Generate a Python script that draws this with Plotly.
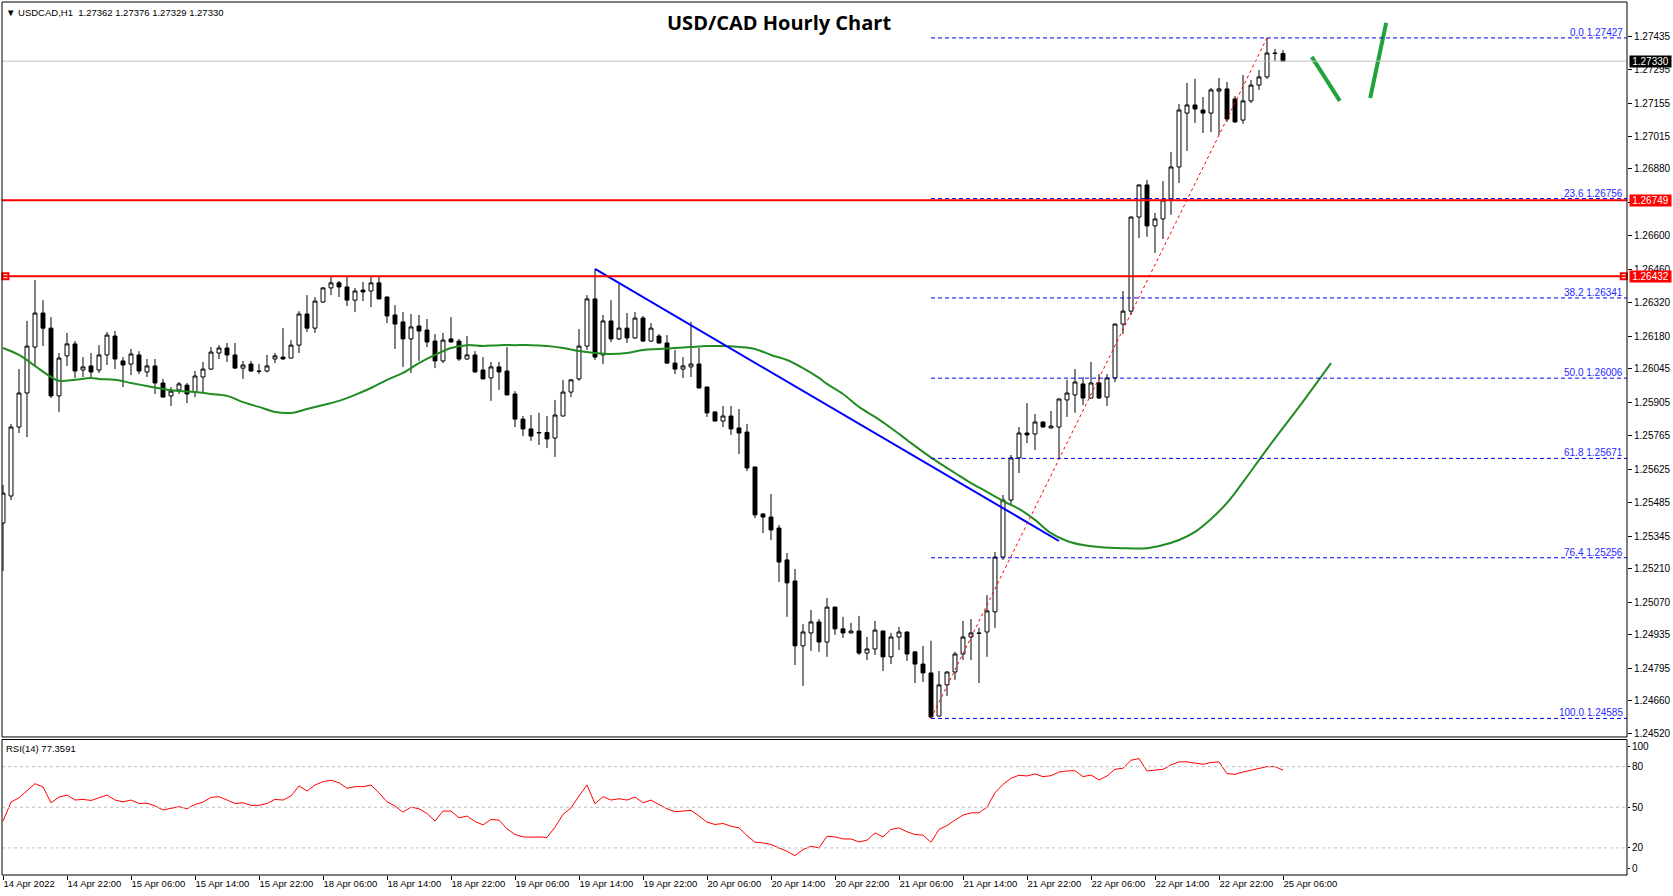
import plotly.graph_objects as go

# ---------------- DATA ----------------
bar_index = list(range(161))
open_ = [1.25401,1.25514,1.25802,1.25944,1.26136,1.26278,1.26215,1.25932,1.26099,1.26149,
 1.26040,1.26057,1.26040,1.26103,1.26182,1.26078,1.26065,1.26103,1.26032,1.26057,
 1.25986,1.25932,1.25957,1.25977,1.25948,1.26011,1.26044,1.26111,1.26132,1.26103,
 1.26048,1.26065,1.26036,1.26036,1.26086,1.26094,1.26090,1.26144,1.26274,1.26215,
 1.26324,1.26383,1.26404,1.26387,1.26332,1.26374,1.26370,1.26404,1.26345,1.26270,
 1.26241,1.26170,1.26224,1.26207,1.26161,1.26078,1.26170,1.26161,1.26086,1.26103,
 1.26040,1.26007,1.26053,1.26036,1.25940,1.25835,1.25794,1.25777,1.25779,1.25756,
 1.25848,1.25948,1.26003,1.26140,1.26337,1.26103,1.26245,1.26170,1.26215,1.26174,
 1.26257,1.26161,1.26182,1.26153,1.26069,1.26044,1.26053,1.26065,1.25969,1.25865,
 1.25827,1.25848,1.25798,1.25781,1.25635,1.25439,1.25426,1.25380,1.25247,1.25159,
 1.24888,1.24942,1.24988,1.24904,1.25050,1.24959,1.24942,1.24950,1.24858,1.24875,
 1.24950,1.24842,1.24925,1.24946,1.24863,1.24812,1.24775,1.24595,1.24725,1.24779,
 1.24854,1.24925,1.24942,1.24946,1.25030,1.25259,1.25497,1.25673,1.25777,1.25773,
 1.25823,1.25798,1.25802,1.25915,1.25936,1.25982,1.25923,1.25986,1.25927,1.26007,
 1.26232,1.26286,1.26679,1.26813,1.26642,1.26671,1.26750,1.26888,1.27113,1.27147,
 1.27126,1.27113,1.27205,1.27214,1.27172,1.27084,1.27164,1.27230,1.27264,1.27364,
 1.27362]
high = [1.25560,1.25815,1.26044,1.26245,1.26416,1.26332,1.26261,1.26111,1.26195,1.26161,
 1.26094,1.26111,1.26144,1.26199,1.26203,1.26094,1.26128,1.26119,1.26086,1.26086,
 1.26003,1.25969,1.25990,1.25986,1.26036,1.26074,1.26136,1.26144,1.26153,1.26153,
 1.26078,1.26078,1.26065,1.26103,1.26111,1.26215,1.26165,1.26286,1.26353,1.26345,
 1.26385,1.26429,1.26412,1.26429,1.26383,1.26408,1.26429,1.26429,1.26347,1.26311,
 1.26282,1.26274,1.26270,1.26253,1.26190,1.26195,1.26261,1.26170,1.26182,1.26119,
 1.26094,1.26074,1.26074,1.26136,1.25952,1.25848,1.25852,1.25861,1.25848,1.25915,
 1.25999,1.26001,1.26211,1.26353,1.26462,1.26270,1.26332,1.26399,1.26278,1.26282,
 1.26266,1.26236,1.26190,1.26186,1.26124,1.26094,1.26241,1.26132,1.25971,1.25867,
 1.25890,1.25890,1.25877,1.25815,1.25637,1.25441,1.25522,1.25393,1.25276,1.25209,
 1.24979,1.25038,1.25000,1.25088,1.25052,1.25009,1.24984,1.25013,1.24925,1.24992,
 1.24952,1.24942,1.24967,1.24948,1.24865,1.24888,1.24909,1.24783,1.24781,1.24863,
 1.24992,1.25000,1.24963,1.25100,1.25280,1.25518,1.25685,1.25802,1.25902,1.25856,
 1.25825,1.25869,1.25921,1.25999,1.26044,1.26011,1.26074,1.26023,1.26023,1.26234,
 1.26370,1.26681,1.26815,1.26834,1.26696,1.26829,1.26951,1.27151,1.27239,1.27256,
 1.27180,1.27218,1.27260,1.27243,1.27184,1.27272,1.27251,1.27293,1.27427,1.27381,
 1.27376]
low = [1.25201,1.25497,1.25777,1.25760,1.26053,1.26140,1.25923,1.25865,1.26057,1.26007,
 1.26011,1.26011,1.26028,1.26061,1.26044,1.25969,1.26019,1.26023,1.26011,1.25940,
 1.25925,1.25890,1.25940,1.25902,1.25927,1.25948,1.26040,1.26086,1.26074,1.26045,
 1.26003,1.26032,1.26023,1.26030,1.26069,1.26084,1.26088,1.26111,1.26199,1.26195,
 1.26320,1.26353,1.26345,1.26307,1.26282,1.26328,1.26303,1.26335,1.26236,1.26128,
 1.26053,1.26028,1.26078,1.26136,1.26048,1.26069,1.26155,1.26078,1.26084,1.26028,
 1.26001,1.25911,1.25957,1.25934,1.25802,1.25764,1.25744,1.25727,1.25714,1.25677,
 1.25846,1.25927,1.25995,1.26124,1.26082,1.26065,1.26157,1.26165,1.26153,1.26170,
 1.26157,1.26157,1.26150,1.26065,1.26023,1.26007,1.26011,1.25963,1.25844,1.25825,
 1.25802,1.25769,1.25689,1.25618,1.25422,1.25359,1.25330,1.25155,1.25009,1.24808,
 1.24721,1.24867,1.24863,1.24842,1.24934,1.24921,1.24940,1.24850,1.24829,1.24850,
 1.24783,1.24812,1.24871,1.24825,1.24733,1.24737,1.24585,1.24593,1.24679,1.24746,
 1.24829,1.24829,1.24733,1.24842,1.24963,1.25247,1.25476,1.25610,1.25735,1.25706,
 1.25800,1.25796,1.25673,1.25844,1.25861,1.25894,1.25921,1.25919,1.25890,1.25990,
 1.26190,1.26270,1.26591,1.26596,1.26529,1.26587,1.26688,1.26821,1.26955,1.27072,
 1.27030,1.27034,1.27022,1.27076,1.27072,1.27068,1.27155,1.27210,1.27256,1.27331,
 1.27329]
close = [1.25526,1.25802,1.25944,1.26140,1.26278,1.26215,1.25932,1.26090,1.26149,1.26036,
 1.26053,1.26032,1.26103,1.26186,1.26086,1.26061,1.26107,1.26036,1.26057,1.25986,
 1.25927,1.25952,1.25982,1.25940,1.26015,1.26044,1.26115,1.26132,1.26103,1.26048,
 1.26061,1.26036,1.26034,1.26057,1.26099,1.26086,1.26144,1.26274,1.26215,1.26328,
 1.26383,1.26404,1.26387,1.26332,1.26370,1.26366,1.26404,1.26337,1.26266,1.26232,
 1.26170,1.26220,1.26203,1.26157,1.26078,1.26165,1.26157,1.26086,1.26103,1.26032,
 1.26003,1.26053,1.26032,1.25936,1.25835,1.25794,1.25764,1.25779,1.25752,1.25852,
 1.25948,1.25999,1.26140,1.26337,1.26094,1.26245,1.26170,1.26215,1.26174,1.26257,
 1.26161,1.26215,1.26153,1.26069,1.26044,1.26057,1.26065,1.25965,1.25861,1.25827,
 1.25848,1.25794,1.25777,1.25631,1.25435,1.25426,1.25372,1.25238,1.25151,1.24888,
 1.24946,1.24988,1.24904,1.25050,1.24959,1.24942,1.24950,1.24858,1.24875,1.24954,
 1.24842,1.24925,1.24946,1.24854,1.24812,1.24775,1.24591,1.24725,1.24779,1.24854,
 1.24925,1.24942,1.24940,1.25034,1.25259,1.25497,1.25673,1.25777,1.25769,1.25823,
 1.25802,1.25806,1.25919,1.25944,1.25990,1.25923,1.25986,1.25923,1.26007,1.26232,
 1.26286,1.26679,1.26813,1.26642,1.26671,1.26750,1.26888,1.27126,1.27147,1.27130,
 1.27113,1.27210,1.27214,1.27088,1.27076,1.27164,1.27230,1.27264,1.27364,1.27362,
 1.27330]

# moving average (green) incl. hand-drawn projection
ma_x = [0,2,4,6,7,9,11,12,14,16,18,20,22,24,26,28,30,32,34,36,38,40,42,44,46,48,50,52,54,56,
        58,60,62,64,66,68,70,72,74,76,78,80,82,84,86,88,90,92,94,96,98,100,102,103,105,107,109,
        111,113,115,117,119,121,123,125,127,129,131,133,135,137,140,143,145,147,149,151,153,155,
        158,162,166]
ma_y = [1.26132,1.26103,1.26057,1.26011,1.25995,1.25999,1.26007,1.26003,1.25999,1.25986,1.25973,
        1.25961,1.25952,1.25948,1.25940,1.25932,1.25906,1.25886,1.25865,1.25861,1.25877,1.25894,
        1.25911,1.25936,1.25965,1.25999,1.26028,1.26069,1.26103,1.26132,1.26144,1.26140,1.26144,
        1.26144,1.26144,1.26140,1.26132,1.26119,1.26111,1.26107,1.26111,1.26124,1.26128,1.26132,
        1.26136,1.26140,1.26140,1.26136,1.26128,1.26103,1.26082,1.26048,1.26007,1.25982,1.25940,
        1.25886,1.25844,1.25798,1.25748,1.25698,1.25652,1.25610,1.25568,1.25531,1.25493,1.25460,
        1.25414,1.25359,1.25326,1.25309,1.25301,1.25296,1.25296,1.25309,1.25330,1.25364,1.25418,
        1.25485,1.25572,1.25710,1.25886,1.26069]

rsi = [39.8,53.8,57.0,62.0,67.4,65.0,53.3,57.5,59.0,55.3,55.8,55.0,56.8,59.0,55.3,54.0,55.3,52.8,
       53.0,51.0,48.0,49.1,50.4,49.0,52.0,53.8,57.3,57.8,55.3,52.8,53.3,51.4,51.4,52.8,55.8,55.3,
       58.3,65.7,62.0,66.4,68.9,69.9,68.1,64.0,65.2,65.2,66.4,60.7,54.0,50.9,46.4,50.1,48.9,45.4,
       39.8,47.2,47.2,42.2,43.5,39.5,37.0,41.0,40.5,34.1,29.9,28.1,27.9,28.1,27.7,35.3,44.7,49.6,
       58.3,66.4,52.6,57.8,55.3,56.3,55.3,57.5,53.3,55.3,52.0,48.9,46.7,47.2,47.7,43.5,39.0,37.3,
       38.0,36.0,34.8,29.1,24.2,23.7,22.5,20.0,17.5,14.3,18.8,21.2,20.0,28.6,28.1,26.6,26.6,24.4,
       25.7,31.1,28.1,33.6,34.8,31.9,29.9,29.4,24.2,33.6,36.5,40.5,44.2,45.9,45.9,50.1,60.7,66.9,
       71.4,73.6,73.1,74.6,72.6,73.3,76.0,76.8,77.0,72.6,73.8,70.1,73.1,78.0,78.8,84.7,85.9,76.8,
       77.3,78.0,81.2,83.5,83.5,82.5,81.7,83.0,83.5,74.8,74.3,76.0,77.3,78.5,80.0,80.0,77.36]

x_tick_pos = list(range(0, 161, 8))
x_tick_text = ["14 Apr 2022", "14 Apr 22:00", "15 Apr 06:00", "15 Apr 14:00", "15 Apr 22:00",
               "18 Apr 06:00", "18 Apr 14:00", "18 Apr 22:00", "19 Apr 06:00", "19 Apr 14:00",
               "19 Apr 22:00", "20 Apr 06:00", "20 Apr 14:00", "20 Apr 22:00", "21 Apr 06:00",
               "21 Apr 14:00", "21 Apr 22:00", "22 Apr 06:00", "22 Apr 14:00", "22 Apr 22:00",
               "25 Apr 06:00"]
price_ticks = [1.24520, 1.24660, 1.24795, 1.24935, 1.25070, 1.25210, 1.25345, 1.25485, 1.25625,
               1.25765, 1.25905, 1.26045, 1.26180, 1.26320, 1.26460, 1.26600, 1.26740, 1.26880,
               1.27015, 1.27155, 1.27295, 1.27435]
rsi_levels = [20, 50, 80]

resistance_levels = [1.26749, 1.26432]
bid_price = 1.27330
fib_pct = [0.0, 23.6, 38.2, 50.0, 61.8, 76.4, 100.0]
fib_price = [1.27427, 1.26756, 1.26341, 1.26006, 1.25671, 1.25256, 1.24585]
fib_from_bar, fib_to_bar = 116, 158
trend_x = [74, 132]
trend_y = [1.26462, 1.25326]
stroke1_x = [163.6, 167.1]
stroke1_y = [1.27348, 1.27164]
stroke2_x = [170.9, 172.9]
stroke2_y = [1.27176, 1.27490]

# ---------------- FIGURE ----------------
X_MAX = 203.0
MAIN_LO, MAIN_HI = 1.245075, 1.275770
MAIN_DOM = [0.1581, 1.0]
RSI_DOM = [0.0, 0.1552]
FONT = "Liberation Sans"

fig = go.Figure()

fig.add_trace(go.Candlestick(
    x=bar_index, open=open_, high=high, low=low, close=close,
    increasing=dict(line=dict(color="black", width=1), fillcolor="white"),
    decreasing=dict(line=dict(color="black", width=1), fillcolor="black"),
    whiskerwidth=0, showlegend=False, hoverinfo="skip", xaxis="x", yaxis="y"))

fig.add_trace(go.Scatter(x=ma_x, y=ma_y, mode="lines", line=dict(color="#228b22", width=2, shape="spline"),
                         showlegend=False, hoverinfo="skip", xaxis="x", yaxis="y"))

fig.add_trace(go.Scatter(x=trend_x, y=trend_y, mode="lines", line=dict(color="#0000ff", width=2),
                         showlegend=False, hoverinfo="skip", xaxis="x", yaxis="y"))

fig.add_trace(go.Scatter(x=[fib_from_bar, fib_to_bar], y=[fib_price[-1], fib_price[0]], mode="lines",
                         line=dict(color="#ff0000", width=1, dash="dot"),
                         showlegend=False, hoverinfo="skip", xaxis="x", yaxis="y"))

for sx, sy in ((stroke1_x, stroke1_y), (stroke2_x, stroke2_y)):
    fig.add_trace(go.Scatter(x=sx, y=sy, mode="lines", line=dict(color="#1fa33a", width=4),
                             showlegend=False, hoverinfo="skip", xaxis="x", yaxis="y"))

fig.add_trace(go.Scatter(x=bar_index, y=rsi, mode="lines", line=dict(color="#ff0000", width=1),
                         showlegend=False, hoverinfo="skip", xaxis="x2", yaxis="y2"))

shapes = []
shapes.append(dict(type="line", xref="paper", x0=0, x1=1, yref="y", y0=bid_price, y1=bid_price,
                   line=dict(color="#c0c0c0", width=1)))
for p in fib_price:
    shapes.append(dict(type="line", xref="x", x0=fib_from_bar, x1=X_MAX, yref="y", y0=p, y1=p,
                       line=dict(color="#0000ff", width=1, dash="4px,3px")))
for p in resistance_levels:
    shapes.append(dict(type="line", xref="paper", x0=0, x1=1, yref="y", y0=p, y1=p,
                       line=dict(color="#ff0000", width=2)))
for lv in rsi_levels:
    shapes.append(dict(type="line", xref="paper", x0=0, x1=1, yref="y2", y0=lv, y1=lv,
                       line=dict(color="#c0c0c0", width=1, dash="3px,3px")))
shapes.append(dict(type="rect", xref="paper", yref="paper", x0=0, x1=1, y0=MAIN_DOM[0], y1=MAIN_DOM[1],
                   line=dict(color="black", width=1)))
shapes.append(dict(type="rect", xref="paper", yref="paper", x0=0, x1=1, y0=RSI_DOM[0], y1=RSI_DOM[1],
                   line=dict(color="black", width=1)))

fig.add_trace(go.Scatter(x=[0.3, 202.6], y=[resistance_levels[1]] * 2, mode="markers",
                         marker=dict(symbol="square", size=6, color="white", line=dict(color="#ff0000", width=2)),
                         showlegend=False, hoverinfo="skip", xaxis="x", yaxis="y", cliponaxis=False))

annotations = []
for pct, p in zip(fib_pct, fib_price):
    annotations.append(dict(xref="paper", x=0.999, yref="y", y=p, text=f"{pct:.1f} {p:.5f}",
                            xanchor="right", yanchor="bottom", showarrow=False, yshift=-2,
                            font=dict(family=FONT, size=10, color="#2828ff")))
for p, bg in ((bid_price, "black"), (resistance_levels[0], "#ff0000"), (resistance_levels[1], "#ff0000")):
    annotations.append(dict(xref="paper", x=1, xshift=2, yref="y", y=p, text=f"{p:.5f}",
                            xanchor="left", yanchor="middle", showarrow=False, bgcolor=bg,
                            borderpad=0, font=dict(family=FONT, size=10, color="white"), width=41, height=11))
annotations.append(dict(xref="paper", yref="paper", x=0.478, y=0.977, text="<b>USD/CAD Hourly Chart</b>",
                        showarrow=False, xanchor="center", yanchor="middle",
                        font=dict(family="Open Sans", size=20, color="black")))
annotations.append(dict(xref="paper", yref="paper", x=0.001, y=0.9875,
                        text="▼ USDCAD,H1  1.27362 1.27376 1.27329 1.27330",
                        showarrow=False, xanchor="left", yanchor="middle",
                        font=dict(family=FONT, size=9.5, color="black")))
annotations.append(dict(xref="paper", yref="paper", x=0.001, y=0.1447, text="RSI(14) 77.3591",
                        showarrow=False, xanchor="left", yanchor="middle",
                        font=dict(family=FONT, size=9.5, color="black")))

fig.update_layout(
    width=1673, height=896, autosize=False,
    margin=dict(l=2, r=46, t=2, b=21, pad=0),
    paper_bgcolor="white", plot_bgcolor="white",
    shapes=shapes, annotations=annotations, showlegend=False,
    xaxis=dict(domain=[0, 1], range=[-0.125, X_MAX], anchor="y", showgrid=False, zeroline=False,
               showticklabels=False, ticks="", rangeslider=dict(visible=False), fixedrange=True),
    yaxis=dict(domain=MAIN_DOM, range=[MAIN_LO, MAIN_HI], side="right", anchor="x",
               tickvals=price_ticks, ticktext=[f"{v:.5f}" for v in price_ticks],
               ticks="outside", ticklen=4, tickcolor="black", showgrid=False, zeroline=False,
               tickfont=dict(family=FONT, size=10, color="black")),
    xaxis2=dict(domain=[0, 1], range=[-0.125, X_MAX], anchor="y2", matches="x", showgrid=False,
                zeroline=False, tickvals=x_tick_pos, ticktext=x_tick_text, ticks="outside", ticklen=4,
                tickcolor="black", ticklabelposition="outside right",
                tickfont=dict(family=FONT, size=9.5, color="black")),
    yaxis2=dict(domain=RSI_DOM, range=[0, 100], side="right", anchor="x2",
                tickvals=[5, 20, 50, 80, 94.5], ticktext=["0", "20", "50", "80", "100"],
                ticks="outside", ticklen=2, tickcolor="black", showgrid=False, zeroline=False,
                tickfont=dict(family=FONT, size=10, color="black")),
)

fig.write_html("out.html", config={"displayModeBar": False},
               post_script="document.body.style.margin='0';document.body.style.overflow='hidden';")
